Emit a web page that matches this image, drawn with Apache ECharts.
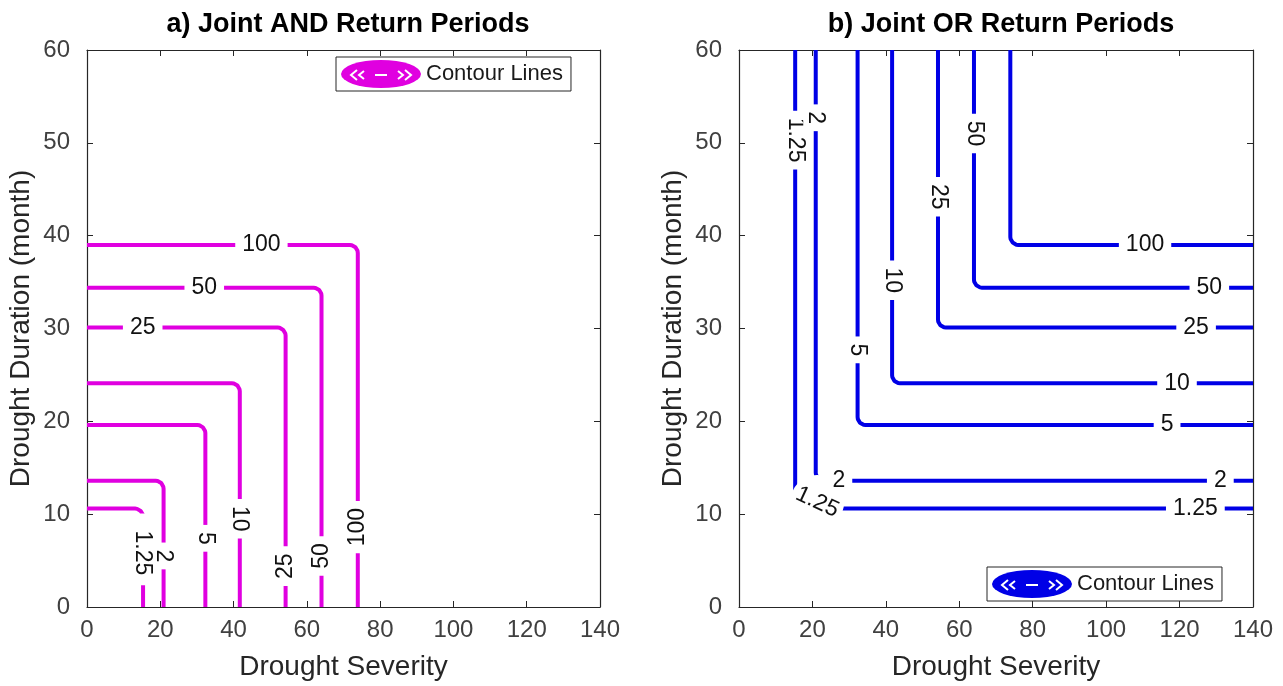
<!DOCTYPE html>
<html>
<head>
<meta charset="utf-8">
<script src="https://cdn.jsdelivr.net/npm/echarts@6/dist/echarts.min.js"></script>
<style>
  html, body { margin: 0; padding: 0; background: #fff; }
  #main { width: 1283px; height: 686px; }
</style>
</head>
<body>
<div id="main"></div>
<script>
// contour levels (return periods, years) and where each contour turns
const levels = ["1.25", "2", "5", "10", "25", "50", "100"];
const severity = [15.3, 20.9, 32.3, 41.7, 54.2, 64.0, 73.9];
const duration = [10.6, 13.6, 19.6, 24.1, 30.1, 34.4, 39.0];

// inline contour labels, AND panel
const andLabelText = ["100", "50", "25", "2", "1.25", "5", "10", "25", "50", "100"];
const andLabelX = [47.6, 32.0, 15.2, 20.9, 15.0, 32.3, 41.7, 54.2, 64.0, 73.9];
const andLabelY = [39.0, 34.4, 30.1, 5.5, 6.2, 7.4, 9.5, 4.4, 5.5, 8.6];
const andLabelRot = [0, 0, 0, -90, -90, -90, -90, 90, 90, 90];

// inline contour labels, OR panel
const orLabelText = ["1.25", "2", "5", "10", "25", "50", "100", "50", "25", "10", "5", "2", "1.25", "2", "1.25"];
const orLabelX = [15.3, 20.9, 32.3, 41.7, 54.2, 64.0, 110.6, 128.1, 124.5, 119.3, 116.6, 131.1, 124.3, 27.2, 21.3];
const orLabelY = [50.3, 52.7, 27.7, 35.2, 44.2, 51.0, 39.0, 34.4, 30.1, 24.1, 19.6, 13.6, 10.6, 13.6, 11.3];
const orLabelRot = [-90, -90, -90, -90, -90, -90, 0, 0, 0, 0, 0, 0, 0, 0, -25];

const MAG = "#e000e0", BLUE = "#0000e6";
const FONT = "'Liberation Sans', Arial, Helvetica, sans-serif";
const rx = 2.2, ry = 0.86; // corner rounding

const andPath = (S, D) => {
  const pts = [[0, D]];
  const cx = S - rx, cy = D - ry;
  for (let i = 0; i <= 6; i++) {
    const a = (Math.PI / 2) * (1 - i / 6);
    pts.push([cx + rx * Math.cos(a), cy + ry * Math.sin(a)]);
  }
  pts.push([S, 0]);
  return pts;
};
const orPath = (S, D) => {
  const pts = [[S, 60]];
  const cx = S + rx, cy = D + ry;
  for (let i = 0; i <= 6; i++) {
    const a = Math.PI + (Math.PI / 2) * (i / 6);
    pts.push([cx + rx * Math.cos(a), cy + ry * Math.sin(a)]);
  }
  pts.push([140, D]);
  return pts;
};

const labelItems = (txt, xs, ys, rots) =>
  txt.map((t, i) => {
    const item = { name: t, value: [xs[i], ys[i]], label: { rotate: rots[i] } };
    if (rots[i] === -25) {
      // corner label: clear a round patch around it
      item.symbol = "circle";
      item.symbolSize = 54;
      item.label.backgroundColor = "transparent";
    }
    if (t === "1.25" && rots[i] === -90 && ys[i] < 20) {
      item.label.padding = [1, 10, 1, 17];
    }
    return item;
  });

const labelSeries = (data, xi) => ({
  type: "scatter",
  xAxisIndex: xi,
  yAxisIndex: xi,
  symbolSize: 1,
  itemStyle: { color: "#fff", opacity: 1 },
  z: 5,
  silent: true,
  label: {
    show: true,
    position: "inside",
    formatter: "{b}",
    fontFamily: FONT,
    fontSize: 23,
    color: "#111",
    backgroundColor: "#fff",
    padding: [1, 7],
  },
  emphasis: { disabled: true },
  data,
});

const axisBase = {
  min: 0,
  axisLine: { show: true, onZero: false, lineStyle: { color: "#262626", width: 1.2 } },
  axisTick: { show: true, inside: true, length: 6, lineStyle: { color: "#262626" } },
  splitLine: { show: false },
};
const xBottom = (g) => ({
  ...axisBase, type: "value", gridIndex: g, position: "bottom", max: 140, interval: 20,
  name: "Drought Severity", nameLocation: "middle", nameGap: 46,
  nameTextStyle: { fontFamily: FONT, fontSize: 28, color: "#262626" },
  axisLabel: { fontFamily: FONT, fontSize: 24, color: "#404040", margin: 11 },
});
const xTop = (g) => ({
  ...axisBase, type: "value", gridIndex: g, position: "top", max: 140, interval: 20,
  axisLabel: { show: false },
});
const yLeft = (g) => ({
  ...axisBase, type: "value", gridIndex: g, position: "left", max: 60, interval: 10,
  name: "Drought Duration (month)", nameLocation: "middle", nameGap: 52,
  nameTextStyle: { fontFamily: FONT, fontSize: 28, color: "#262626" },
  axisLabel: { fontFamily: FONT, fontSize: 24, color: "#404040", margin: 17 },
});
const yRight = (g) => ({
  ...axisBase, type: "value", gridIndex: g, position: "right", max: 60, interval: 10,
  axisLabel: { show: false },
});

const series = [];
levels.forEach((lv, i) => {
  series.push({
    name: "AND", type: "line", xAxisIndex: 0, yAxisIndex: 0,
    showSymbol: false, symbol: "none", silent: true, z: 2,
    lineStyle: { color: MAG, width: 4 }, itemStyle: { color: MAG },
    data: andPath(severity[i], duration[i]),
  });
  series.push({
    name: "OR", type: "line", xAxisIndex: 2, yAxisIndex: 2,
    showSymbol: false, symbol: "none", silent: true, z: 2,
    lineStyle: { color: BLUE, width: 4 }, itemStyle: { color: BLUE },
    data: orPath(severity[i], duration[i]),
  });
});
series.push(labelSeries(labelItems(andLabelText, andLabelX, andLabelY, andLabelRot), 0));
series.push(labelSeries(labelItems(orLabelText, orLabelX, orLabelY, orLabelRot), 2));

const ellipse = "path://M0,14 A40,14 0 1,1 80,14 A40,14 0 1,1 0,14 Z";
const legendBase = {
  orient: "horizontal",
  icon: ellipse,
  itemWidth: 80,
  itemHeight: 28,
  formatter: () => "Contour Lines",
  selectedMode: false,
  backgroundColor: "#fff",
  borderColor: "#262626",
  borderWidth: 1,
  padding: [3, 8, 3, 5],
  textStyle: { fontFamily: FONT, fontSize: 22, color: "#1a1a1a" },
};

// white arrows drawn on the legend ellipses
const white = { stroke: "#fff", lineWidth: 2, fill: null };
const iconMarks = (cx, cy) => ({
  type: "group",
  z: 100,
  children: [
    { type: "polyline", z: 100, shape: { points: [[cx - 24, cy - 5], [cx - 30, cy], [cx - 24, cy + 5]] }, style: white },
    { type: "polyline", z: 100, shape: { points: [[cx - 17, cy - 4], [cx - 22, cy], [cx - 17, cy + 4]] }, style: white },
    { type: "line", z: 100, shape: { x1: cx - 6, y1: cy, x2: cx + 6, y2: cy }, style: white },
    { type: "polyline", z: 100, shape: { points: [[cx + 17, cy - 4], [cx + 22, cy], [cx + 17, cy + 4]] }, style: white },
    { type: "polyline", z: 100, shape: { points: [[cx + 24, cy - 5], [cx + 30, cy], [cx + 24, cy + 5]] }, style: white },
  ],
});

const chart = echarts.init(document.getElementById("main"), null, { renderer: "canvas" });
chart.setOption({
  animation: false,
  backgroundColor: "#fff",
  title: [
    { text: "a) Joint AND Return Periods", left: 343, textAlign: "center", top: 6,
      textStyle: { fontFamily: FONT, fontSize: 27, fontWeight: "bold", color: "#000" } },
    { text: "b) Joint OR Return Periods", left: 996, textAlign: "center", top: 6,
      textStyle: { fontFamily: FONT, fontSize: 27, fontWeight: "bold", color: "#000" } },
  ],
  grid: [
    { left: 87, top: 50, width: 513, height: 558, show: true, borderWidth: 0, backgroundColor: "#fff" },
    { left: 739, top: 50, width: 514, height: 558, show: true, borderWidth: 0, backgroundColor: "#fff" },
  ],
  xAxis: [xBottom(0), xTop(0), xBottom(1), xTop(1)],
  yAxis: [yLeft(0), yRight(0), yLeft(1), yRight(1)],
  legend: [
    { ...legendBase, data: ["AND"], left: 336, top: 57 },
    { ...legendBase, data: ["OR"], left: 987, top: 567 },
  ],
  graphic: [iconMarks(381, 75), iconMarks(1032, 585)],
  series,
});
</script>
</body>
</html>
